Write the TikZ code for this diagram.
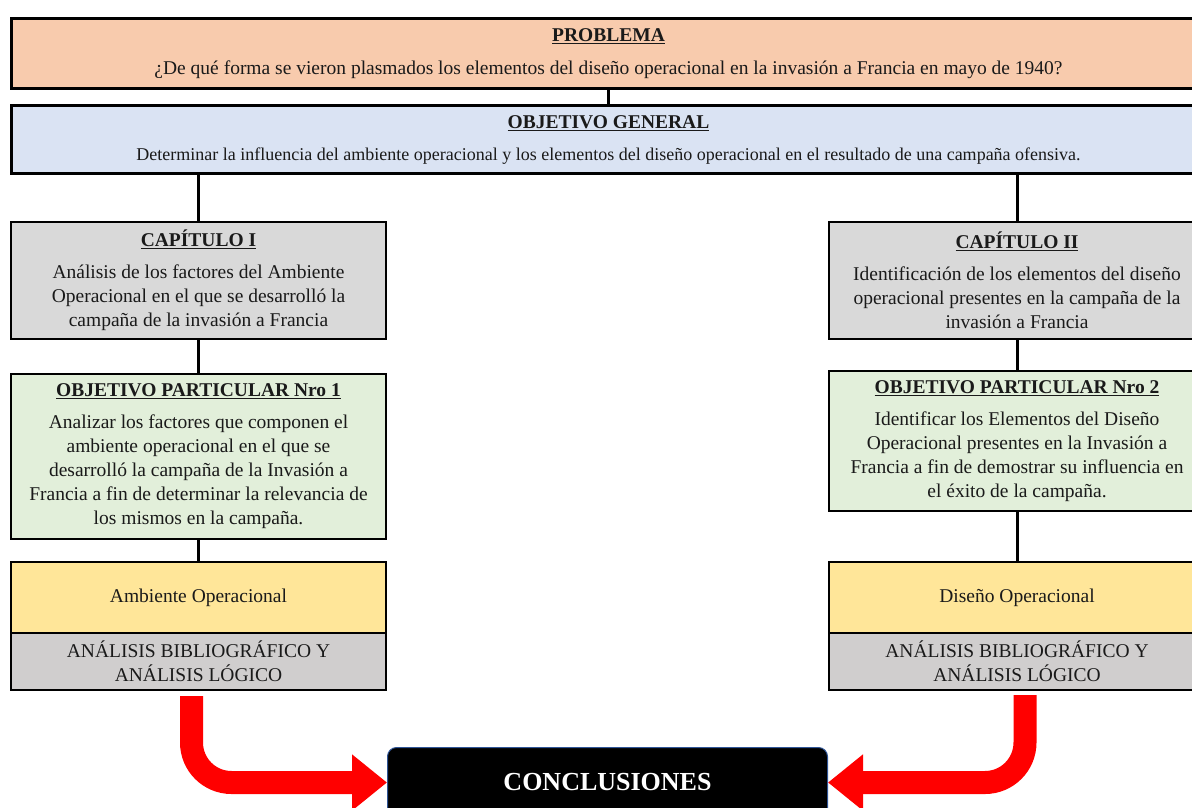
\documentclass[tikz,border=0pt]{standalone}
\usepackage{fontspec}
\setmainfont{Liberation Serif}
\usetikzlibrary{arrows.meta,calc}
\definecolor{probfill}{HTML}{F8CBAD}
\definecolor{objfill}{HTML}{DAE3F3}
\definecolor{capfill}{HTML}{D9D9D9}
\definecolor{partfill}{HTML}{E2EFDA}
\definecolor{yelfill}{HTML}{FFE699}
\definecolor{anafill}{HTML}{D0CECE}
\definecolor{txt}{HTML}{1A1A1A}
\definecolor{arrred}{HTML}{FF0000}
\definecolor{conborder}{HTML}{2F5597}
\begin{document}
\begin{tikzpicture}[x=1pt,y=-1pt,
  bodyfont/.style={font=\fontsize{19.5}{24}\selectfont},
  smallfont/.style={font=\fontsize{18}{24}\selectfont},
  basebox/.style={rectangle, anchor=north west, align=center, inner sep=0pt, text=txt, bodyfont},
  topbox/.style={basebox, draw=black, line width=3pt},
  midbox/.style={basebox, draw=black, line width=2pt},
  link/.style={draw=black, line width=3pt},
  bigarrow/.style={draw=arrred, line width=23pt, rounded corners=40pt, -{Triangle[length=35pt,width=54pt]}},
  concbox/.style={rectangle, rounded corners=9pt, fill=black, draw=conborder, line width=1pt, anchor=north west, text=white, font=\fontsize{26}{30}\selectfont\bfseries}
]
\useasboundingbox (0,0) rectangle (1192,807);
\clip (0,0) rectangle (1192,807);

\node[topbox, fill=probfill, minimum width=1194pt, minimum height=70pt] (prob) at (10,17)
  {\underline{\textbf{PROBLEMA}}\\[9pt]
   ¿De qué forma se vieron plasmados los elementos del diseño operacional en la invasión a Francia en mayo de 1940?};

\node[topbox, fill=objfill, minimum width=1194pt, minimum height=68pt] (obj) at (10,104)
  {\underline{\textbf{OBJETIVO GENERAL}}\\[8pt]
   {\fontsize{18}{24}\selectfont Determinar la influencia del ambiente operacional y los elementos del diseño operacional en el resultado de una campaña ofensiva.}};

\node[midbox, fill=capfill, minimum width=375pt, minimum height=117pt] (cap1) at (10,221)
  {\underline{\textbf{CAPÍTULO I}}\\[8pt]
   Análisis de los factores del Ambiente\\
   Operacional en el que se desarrolló la\\
   campaña de la invasión a Francia};

\node[midbox, fill=partfill, minimum width=375pt, minimum height=165pt] (part1) at (10,373)
  {\underline{\textbf{OBJETIVO PARTICULAR Nro 1}}\\[8pt]
   Analizar los factores que componen el\\
   ambiente operacional en el que se\\
   desarrolló la campaña de la Invasión a\\
   Francia a fin de determinar la relevancia de\\
   los mismos en la campaña.};

\node[midbox, fill=yelfill, minimum width=375pt, minimum height=71pt] (amb1) at (10,561)
  {Ambiente Operacional};
\node[midbox, fill=anafill, minimum width=375pt, minimum height=57pt] (ana1) at (10,632)
  {ANÁLISIS BIBLIOGRÁFICO Y\\ANÁLISIS LÓGICO};

\node[midbox, fill=capfill, minimum width=376pt, minimum height=117pt] (cap2) at (828,221)
  {\underline{\textbf{CAPÍTULO II}}\\[8pt]
   Identificación de los elementos del diseño\\
   operacional presentes en la campaña de la\\
   invasión a Francia};

\node[midbox, fill=partfill, minimum width=376pt, minimum height=140pt] (part2) at (828,370)
  {\underline{\textbf{OBJETIVO PARTICULAR Nro 2}}\\[8pt]
   Identificar los Elementos del Diseño\\
   Operacional presentes en la Invasión a\\
   Francia a fin de demostrar su influencia en\\
   el éxito de la campaña.};

\node[midbox, fill=yelfill, minimum width=376pt, minimum height=71pt] (amb2) at (828,561)
  {Diseño Operacional};
\node[midbox, fill=anafill, minimum width=376pt, minimum height=57pt] (ana2) at (828,632)
  {ANÁLISIS BIBLIOGRÁFICO Y\\ANÁLISIS LÓGICO};

\node[concbox, minimum width=440pt, minimum height=70pt] (concl) at (387,747) {CONCLUSIONES};

\draw[link] (prob.south) -- (obj.north);
\draw[link] (cap1.north) -- (cap1.north |- obj.south);
\draw[link] (cap2.north) -- (cap2.north |- obj.south);
\draw[link] (cap1.south) -- (part1.north);
\draw[link] (cap2.south) -- (part2.north);
\draw[link] (part1.south) -- (amb1.north);
\draw[link] (part2.south) -- (amb2.north);

\coordinate (s1) at ($(ana1.south)+(-7,5)$);
\coordinate (s2) at ($(ana2.south)+(8,4)$);
\draw[bigarrow] (s1) |- (concl.west);
\draw[bigarrow] (s2) |- (concl.east);
\end{tikzpicture}
\end{document}
